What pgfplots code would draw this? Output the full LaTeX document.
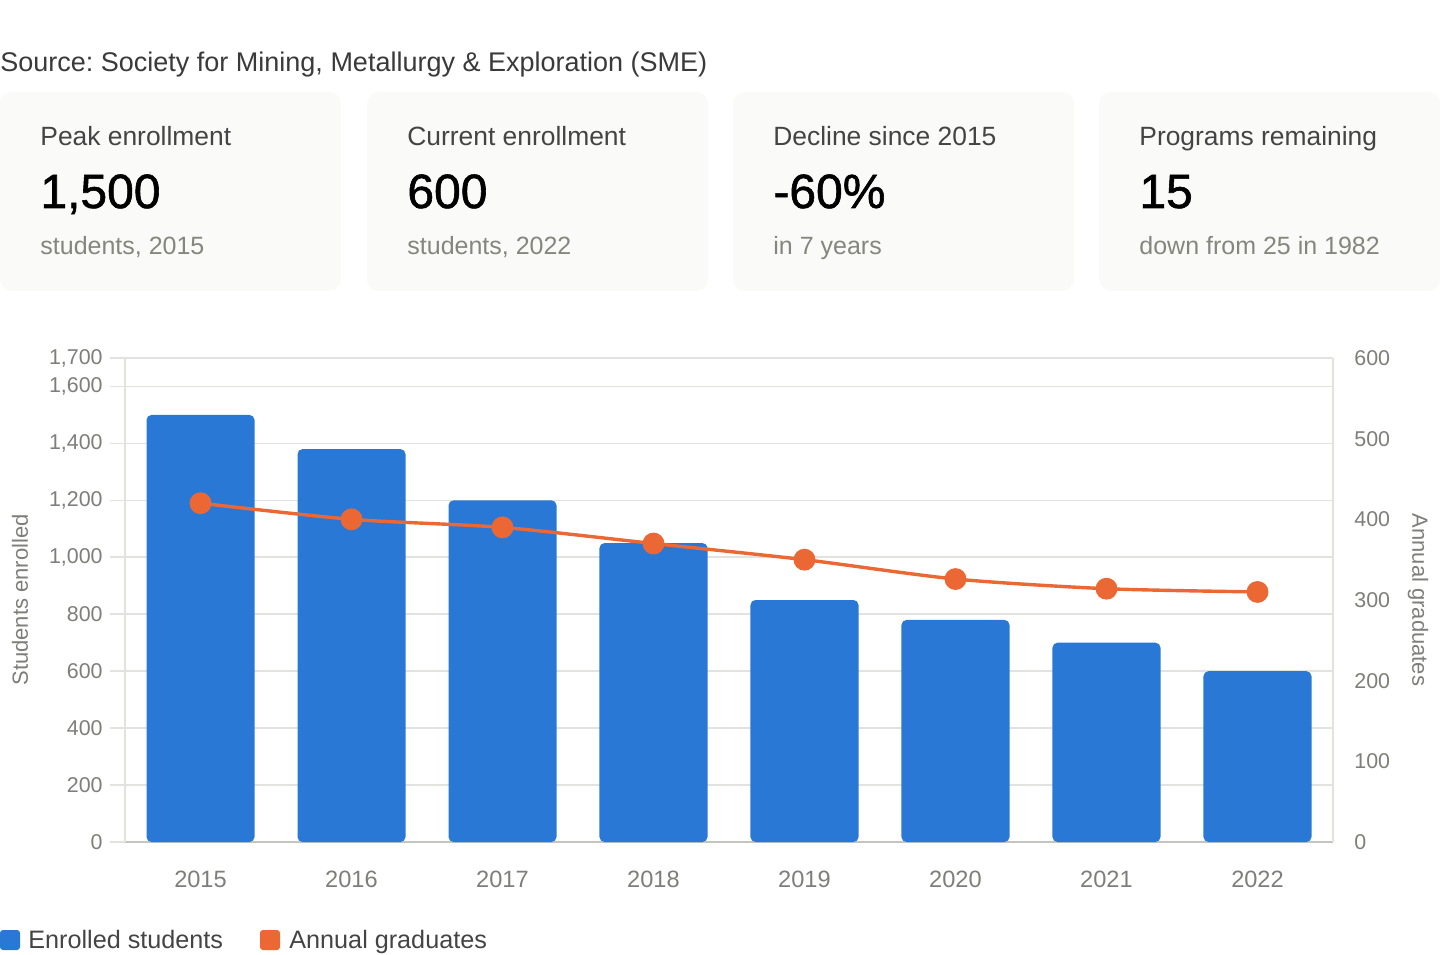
\documentclass[border=0pt]{standalone}
\usepackage{pgfplots}
\pgfplotsset{compat=1.18}
\usepackage{fontspec}
\setmainfont{Liberation Sans}
\newfontfamily\valfont[FakeBold=1.2]{Liberation Sans}
\frenchspacing
\definecolor{barblue}{HTML}{2A78D6}
\definecolor{lineorange}{HTML}{EB6834}
\definecolor{gridc}{HTML}{E2E2DE}
\definecolor{basec}{HTML}{C4C4C0}
\definecolor{tickc}{HTML}{7E7E7A}
\definecolor{cardbg}{HTML}{FAFAF8}
\definecolor{titlec}{HTML}{444444}
\definecolor{subc}{HTML}{86867F}
\definecolor{srcc}{HTML}{3A3A3A}
\pgfplotstableread{
x enrolled graduates
0 1500 420
1 1380 400
2 1200 390
3 1050 370
4 850 350
5 780 326
6 700 314
7 600 310
}\datatable
\begin{document}
\begin{tikzpicture}[x=0.5pt,y=0.5pt]
\useasboundingbox (0,0) rectangle (1440,954);
\fill[white] (0,0) rectangle (1440,954);
% source
\node[anchor=base west, inner sep=0, text=srcc, font=\fontsize{13.5}{15}\selectfont] at (0,882) {Source: Society for Mining, Metallurgy \& Exploration (SME)};
% cards
\foreach \cx/\t/\v/\s in {0/Peak enrollment/{1,500}/{students, 2015}, 367/Current enrollment/600/{students, 2022}, 733/Decline since 2015/-60\%/in 7 years, 1099/Programs remaining/15/down from 25 in 1982}{
  \fill[cardbg, rounded corners=6pt] (\cx,663) rectangle ++(341,199);
  \node[anchor=base west, inner sep=0, text=titlec, font=\fontsize{13.2}{15}\selectfont] at (\cx+40,808) {\t};
  \node[anchor=base west, inner sep=0, text=black, font=\valfont\fontsize{24}{28}\selectfont] at (\cx+40,746) {\v};
  \node[anchor=base west, inner sep=0, text=subc, font=\fontsize{12.5}{14}\selectfont] at (\cx+40,699) {\s};
}
\begin{axis}[
  at={(62.5pt,56pt)}, anchor=south west,
  width=604pt, height=242pt, scale only axis,
  xmin=-0.5, xmax=7.5, ymin=0, ymax=1700,
  axis x line*=bottom, axis y line*=left,
  axis line style={-, draw=gridc, line width=0.8pt},
  x axis line style={draw=basec},
  xtick=data, xticklabels={2015,2016,2017,2018,2019,2020,2021,2022},
  xtick style={draw=none},
  ytick={0,200,400,600,800,1000,1200,1400,1600,1700},
  ytick style={draw=gridc, line width=0.8pt},
  tick align=outside, major tick length=7.5pt,
  ymajorgrids, grid style={draw=gridc, line width=0.8pt},
  /pgf/number format/assume math mode=true,
  /pgf/number format/1000 sep={,},
  yticklabel style={text=tickc, font=\fontsize{10.7}{12}\selectfont, inner sep=0pt, xshift=-3.5pt},
  xticklabel style={text=tickc, font=\fontsize{11.8}{13}\selectfont, inner sep=0pt, yshift=-7pt},
  ylabel={Students enrolled},
  ylabel style={at={(axis description cs:-0.0869,0.5)}, anchor=center, text=tickc, font=\fontsize{11}{13}\selectfont},
]
\addplot[ybar, bar width=54pt, fill=barblue, draw=none, rounded corners=2.5pt] table[x=x,y=enrolled]{\datatable};
\end{axis}
\begin{axis}[
  at={(62.5pt,56pt)}, anchor=south west,
  width=604pt, height=242pt, scale only axis,
  xmin=-0.5, xmax=7.5, ymin=0, ymax=600,
  axis x line=none, axis y line*=right,
  axis line style={-, draw=gridc, line width=0.8pt},
  ytick={0,100,200,300,400,500,600},
  ytick style={draw=none},
  yticklabel style={text=tickc, font=\fontsize{10.7}{12}\selectfont, inner sep=0pt, anchor=west, xshift=10.5pt},
  /pgf/number format/assume math mode=true,
  ylabel={Annual graduates},
  ylabel style={at={(axis description cs:1.0704,0.5)}, anchor=center, rotate=180, text=tickc, font=\fontsize{11}{13}\selectfont},
]
\addplot[lineorange, line width=1.7pt, smooth, tension=0.45, mark=*, mark size=4.6pt, mark options={fill=lineorange, draw=lineorange}] table[x=x,y=graduates]{\datatable};
\end{axis}
% legend
\fill[barblue, rounded corners=1.5pt] (0,4) rectangle (20,24);
\node[anchor=base west, inner sep=0, text=titlec, font=\fontsize{12.6}{14}\selectfont] at (28,6) {Enrolled students};
\fill[lineorange, rounded corners=1.5pt] (260,4) rectangle (280,24);
\node[anchor=base west, inner sep=0, text=titlec, font=\fontsize{12.6}{14}\selectfont] at (289,6) {Annual graduates};
\end{tikzpicture}
\end{document}
